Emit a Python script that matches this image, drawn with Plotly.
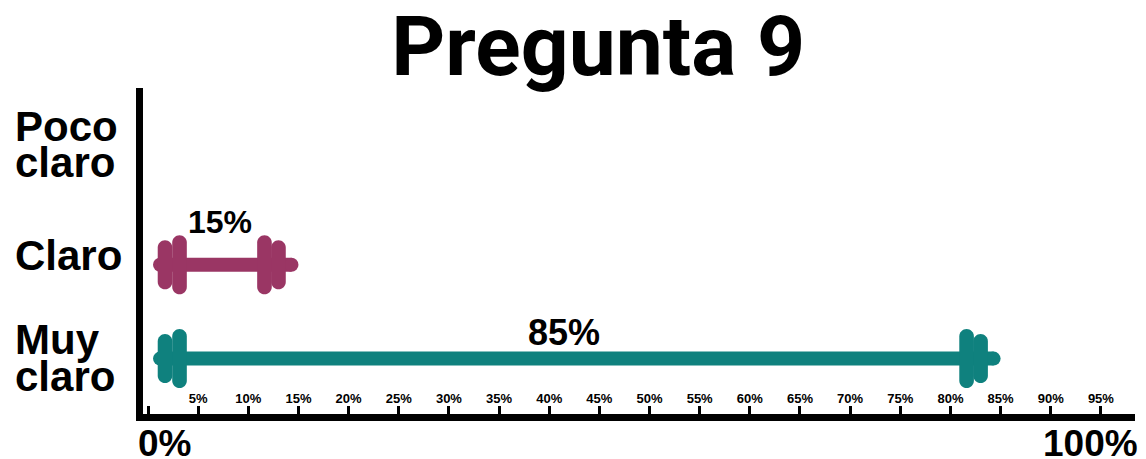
import plotly.graph_objects as go

# ---- data ----
categories = ["Muy claro", "Claro", "Poco claro"]
values = [85, 15, 0]
colors = ["#0F817E", "#9A3664", "#9A3664"]
tick_values = list(range(0, 100, 5))
tick_labels = ["" if v == 0 else f"{v}%" for v in tick_values]
title_text = "Pregunta 9"

# ---- layout geometry ----
W, H = 1146, 459
M = dict(l=143, r=11, t=88, b=45)
x_range = [-0.5, 98.4]
y_range = [-0.59, 2.883]
plot_w = W - M["l"] - M["r"]
px_per_unit = plot_w / (x_range[1] - x_range[0])

FONT = "Liberation Sans, Arial, Helvetica, sans-serif"
TITLE_FONT = "Roboto, Liberation Sans, Arial, sans-serif"
ypos = {c: i for i, c in enumerate(categories)}

fig = go.Figure()
shapes = []
annotations = []


def stadium(cx, hw, hh):
    k = 0.5523 * hw
    return (
        f"M {cx-hw},{-hh+hw} L {cx-hw},{hh-hw} "
        f"C {cx-hw},{hh-hw+k} {cx-k},{hh} {cx},{hh} "
        f"C {cx+k},{hh} {cx+hw},{hh-hw+k} {cx+hw},{hh-hw} "
        f"L {cx+hw},{-hh+hw} "
        f"C {cx+hw},{-hh+hw-k} {cx+k},{-hh} {cx},{-hh} "
        f"C {cx-k},{-hh} {cx-hw},{-hh+hw-k} {cx-hw},{-hh+hw} Z"
    )


for cat, val, col in zip(categories, values, colors):
    y = ypos[cat]
    if val <= 0:
        continue
    x_start = 0 + 12 / px_per_unit
    x_end = val - 7 / px_per_unit
    fig.add_trace(go.Scatter(
        x=[x_start, x_end], y=[y, y], mode="lines+markers",
        line=dict(color=col, width=14),
        marker=dict(color=col, size=14, symbol="circle", line=dict(width=0)),
        hoverinfo="skip", showlegend=False, cliponaxis=False,
    ))
    # plates: left side anchored at 0, right side anchored at value
    for anchor, cx, hh in [(0, 17, 24.5), (0, 31.5, 29.5), (val, -34, 29.5), (val, -20, 24.5)]:
        shapes.append(dict(
            type="path", xref="x", yref="y",
            xsizemode="pixel", ysizemode="pixel",
            xanchor=anchor, yanchor=y,
            path=stadium(cx, 7.3, hh),
            fillcolor=col, line=dict(width=0), layer="above",
        ))
    big = val >= 50
    annotations.append(dict(
        x=val / 2, y=y, xref="x", yref="y", text=f"<b>{val}%</b>",
        showarrow=False, xanchor="center", yanchor="middle",
        xshift=-10 if big else -3, yshift=26 if big else 43,
        font=dict(family=FONT, size=36 if big else 32, color="black"),
    ))

# category labels (one annotation per line, tight leading)
label_shifts = {
    "Poco claro": [44, 8],
    "Claro": [9],
    "Muy claro": [19, -18],
}
for cat in categories:
    words = cat.split(" ")
    for w, ys in zip(words, label_shifts[cat]):
        annotations.append(dict(
            x=-0.131, xref="paper", y=ypos[cat], yref="y",
            text=f"<b>{w}</b>", showarrow=False,
            xanchor="left", yanchor="middle", yshift=ys,
            font=dict(family=FONT, size=42, color="black"),
        ))

# big 0% / 100% labels below axis
annotations.append(dict(
    x=0, xref="x", y=0, yref="paper", text="<b>0%</b>", showarrow=False,
    xanchor="left", yanchor="top", xshift=-12, yshift=-7,
    font=dict(family=FONT, size=37, color="black"),
))
annotations.append(dict(
    x=1.005, xref="paper", y=0, yref="paper", text="<b>100%</b>", showarrow=False,
    xanchor="right", yanchor="top", yshift=-7,
    font=dict(family=FONT, size=37, color="black"),
))

fig.update_layout(
    width=W, height=H,
    margin=M,
    paper_bgcolor="white", plot_bgcolor="white",
    title=dict(
        text=f"<b>{title_text}</b>", x=0.522, xanchor="center",
        y=1 - 46 / H, yanchor="middle", yref="container",
        font=dict(family=TITLE_FONT, size=84, color="black"),
    ),
    xaxis=dict(
        range=x_range, showgrid=False, zeroline=False,
        showline=True, linecolor="black", linewidth=7,
        ticks="inside", ticklen=8, tickwidth=3, tickcolor="black",
        tickvals=tick_values, ticktext=tick_labels,
        ticklabelposition="inside",
        tickfont=dict(family=FONT, size=13, color="black", weight="bold"),
        fixedrange=True,
    ),
    yaxis=dict(
        range=y_range, showgrid=False, zeroline=False,
        showline=True, linecolor="black", linewidth=7,
        showticklabels=False, ticks="", fixedrange=True,
    ),
    shapes=shapes,
    annotations=annotations,
    showlegend=False,
)

fig.write_html(
    "out.html",
    config={"displayModeBar": False},
    post_script="document.body.style.margin='0';",
)
